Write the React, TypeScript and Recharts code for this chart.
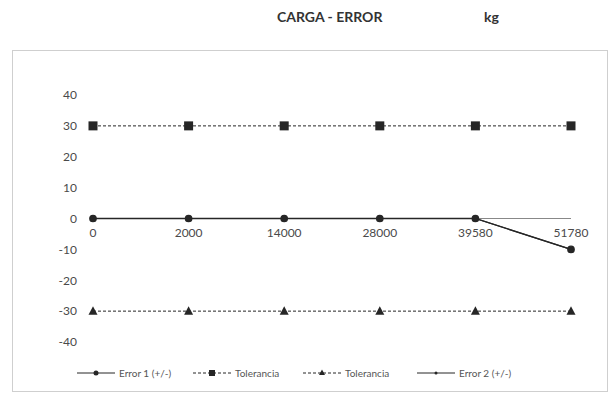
import React from 'react'
import { LineChart, Line, XAxis, YAxis, ReferenceLine } from 'recharts'

const cargas = ['0', '2000', '14000', '28000', '39580', '51780']
const error1 = [0, 0, 0, 0, 0, -10]
const tolSup = [30, 30, 30, 30, 30, 30]
const tolInf = [-30, -30, -30, -30, -30, -30]
const error2 = [0, 0, 0, 0, 0, -10]
const yTicks = [-40, -30, -20, -10, 0, 10, 20, 30, 40]

const data = cargas.map((c, i) => ({
  carga: c,
  error1: error1[i],
  tolSup: tolSup[i],
  tolInf: tolInf[i],
  error2: error2[i],
}))

const W = 611
const H = 394
const XH = 30
const M = { top: 95, right: 40, left: 0, bottom: 22 }
const plotBottom = H - M.bottom - XH
const zeroY = M.top + (plotBottom - M.top) / 2
const ink = '#262626'
const font = 'Lato, "Open Sans", sans-serif'

const SquareDot = (p: any) => (
  <rect key={p.index} x={p.cx - 4.5} y={p.cy - 4.5} width={9} height={9} fill={ink} />
)
const TriDot = (p: any) => (
  <path key={p.index} d={`M${p.cx},${p.cy - 5} L${p.cx + 4.5},${p.cy + 3.5} L${p.cx - 4.5},${p.cy + 3.5} Z`} fill={ink} />
)

const XTick = (p: any) => (
  <text x={p.x} y={zeroY + 18} textAnchor="middle" fill="#4a4a4a" fontSize={12} fontFamily={font}>
    {p.payload.value}
  </text>
)

const legendItems = [
  { label: 'Error 1 (+/-)', dash: undefined, marker: 'circle', x: 77 },
  { label: 'Tolerancia', dash: '3 2', marker: 'square', x: 193 },
  { label: 'Tolerancia', dash: '3 2', marker: 'tri', x: 303 },
  { label: 'Error 2 (+/-)', dash: undefined, marker: 'small', x: 417 },
]

function Legend() {
  return (
    <svg width={W} height={20} style={{ position: 'absolute', left: 0, top: 363 }}>
      {legendItems.map((it, i) => {
        const cx = it.x + 19
        return (
          <g key={i}>
            <line x1={it.x} x2={it.x + 38} y1={10} y2={10} stroke={ink} strokeDasharray={it.dash} />
            {it.marker === 'circle' && <circle cx={cx} cy={10} r={2.5} fill={ink} />}
            {it.marker === 'square' && <rect x={cx - 3} y={7} width={6} height={6} fill={ink} />}
            {it.marker === 'tri' && <path d={`M${cx},6.5 L${cx + 3},12 L${cx - 3},12 Z`} fill={ink} />}
            {it.marker === 'small' && <circle cx={cx} cy={10} r={1.5} fill={ink} />}
            <text x={it.x + 42} y={13.5} fontSize={10} fill="#555" fontFamily={font}>{it.label}</text>
          </g>
        )
      })}
    </svg>
  )
}

export default function App() {
  return (
    <div style={{ position: 'absolute', left: 0, top: 0, width: W, height: H, background: '#fff', fontFamily: font }}>
      <div style={{ position: 'absolute', left: 277, top: 8, fontSize: 14, fontWeight: 700, color: '#333' }}>CARGA - ERROR</div>
      <div style={{ position: 'absolute', left: 484, top: 8, fontSize: 14, fontWeight: 700, color: '#333' }}>kg</div>
      <div style={{ position: 'absolute', left: 12, top: 50, width: 596, height: 342, border: '1px solid #cfcfcf', boxSizing: 'border-box' }} />
      <div style={{ position: 'absolute', left: 0, top: 0 }}>
        <LineChart width={W} height={H} data={data} margin={M}>
          <XAxis dataKey="carga" height={XH} axisLine={false} tickLine={false} tick={XTick} interval={0} />
          <YAxis
            domain={[-40, 40]}
            ticks={yTicks}
            width={93}
            axisLine={false}
            tickLine={false}
            tickMargin={10}
            tick={{ fill: '#4a4a4a', fontSize: 12, fontFamily: font }}
          />
          <ReferenceLine y={0} stroke="#888" />
          <Line dataKey="error2" stroke={ink} strokeWidth={1.2} dot={{ r: 1.5, fill: ink, stroke: ink }} isAnimationActive={false} />
          <Line dataKey="tolSup" stroke={ink} strokeWidth={1} strokeDasharray="3 2" dot={SquareDot} isAnimationActive={false} />
          <Line dataKey="tolInf" stroke={ink} strokeWidth={1} strokeDasharray="3 2" dot={TriDot} isAnimationActive={false} />
          <Line dataKey="error1" stroke={ink} strokeWidth={1.3} dot={{ r: 3.2, fill: ink, stroke: ink }} isAnimationActive={false} />
        </LineChart>
      </div>
      <Legend />
    </div>
  )
}
